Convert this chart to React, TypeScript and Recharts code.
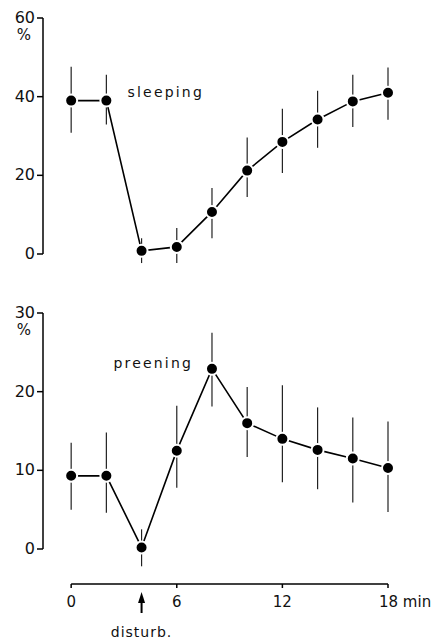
import { LineChart, Line, XAxis, YAxis, ErrorBar, ReferenceLine, ReferenceDot } from 'recharts'

const minutes = [0, 2, 4, 6, 8, 10, 12, 14, 16, 18]

const sleeping = [39, 39, 0.8, 1.8, 10.7, 21.2, 28.5, 34.2, 38.8, 41]
const sleepingLow = [30.8, 32.9, -2.3, -2.3, 4, 14.5, 20.6, 27, 32.3, 34.1]
const sleepingHigh = [47.6, 45.6, 4, 6.6, 16.8, 29.6, 36.9, 41.5, 45.6, 47.4]

const preening = [9.3, 9.3, 0.2, 12.5, 22.9, 16, 14, 12.6, 11.5, 10.3]
const preeningLow = [5.0, 4.6, -2.2, 7.8, 18.1, 11.7, 8.5, 7.6, 5.9, 4.7]
const preeningHigh = [13.5, 14.8, 2.5, 18.2, 27.5, 20.6, 20.8, 18, 16.7, 16.2]

const sleepTicks = [0, 20, 40, 60]
const preenTicks = [0, 10, 20, 30]
const minuteTicks = [0, 4, 6, 12, 18]

const FONT = '"DejaVu Sans", sans-serif'
const X_DOMAIN: [number, number] = [-1.6, 18]
const SLEEP_BOTTOM = -4
const AXIS_BOTTOM = -4.45

const build = (vals: number[], lo: number[], hi: number[]) =>
  minutes.map((m, i) => ({ min: m, v: vals[i], err: [vals[i] - lo[i], hi[i] - vals[i]] }))

const sleepData = build(sleeping, sleepingLow, sleepingHigh)
const preenData = build(preening, preeningLow, preeningHigh)

const dotStyle = { r: 6, fill: '#000', stroke: '#fff', strokeWidth: 2 }

function YTick(props: any) {
  const { x, y, payload, top } = props
  return (
    <g>
      <text x={x} y={y} dy={5} textAnchor="end" fontSize={16} fontFamily={FONT} fill="#111">
        {payload.value}
      </text>
      {payload.value === top && (
        <text x={x - 4} y={y + 22} textAnchor="end" fontSize={15} fontFamily={FONT} fill="#111">%</text>
      )}
    </g>
  )
}

function XTick(props: any) {
  const { x, y, payload } = props
  if (payload.value === 4) {
    return (
      <g>
        <line x1={x} y1={y + 16} x2={x} y2={y + 29} stroke="#000" strokeWidth={2} />
        <polygon points={`${x},${y + 8} ${x - 3.5},${y + 19} ${x + 3.5},${y + 19}`} fill="#000" />
        <text x={x} y={y + 53} textAnchor="middle" fontSize={14} fontFamily={FONT} letterSpacing={1} fill="#111">
          disturb.
        </text>
      </g>
    )
  }
  return (
    <g>
      <line x1={x} y1={y} x2={x} y2={y + 4} stroke="#000" strokeWidth={1.5} />
      <text x={payload.value === 18 ? x - 9 : x} y={y + 23} textAnchor={payload.value === 18 ? 'start' : 'middle'}
        fontSize={15} fontFamily={FONT} fill="#111">
        {payload.value === 18 ? '18 min' : payload.value}
      </text>
    </g>
  )
}

const label = (text: string) => (p: any) => (
  <text x={p.cx} y={p.cy} fontSize={14} fontFamily={FONT} letterSpacing={2.2} fill="#111">{text}</text>
)

export default function App() {
  return (
    <div style={{ position: 'absolute', left: 0, top: 0, width: 434, height: 642, background: '#fff' }}>
      <div style={{ position: 'absolute', left: 0, top: 0 }}>
        <LineChart width={434} height={300} data={sleepData} margin={{ top: 18, right: 46, bottom: 30.27, left: 0 }}>
          <XAxis dataKey="min" type="number" domain={X_DOMAIN} hide />
          <YAxis
            domain={[SLEEP_BOTTOM, 60]}
            ticks={sleepTicks}
            width={43}
            tickSize={6}
            axisLine={false}
            tickLine={{ stroke: '#000', strokeWidth: 1.5 }}
            tick={<YTick top={60} />}
          />
          <ReferenceLine
            segment={[{ x: X_DOMAIN[0], y: 0 }, { x: X_DOMAIN[0], y: 60 }]}
            stroke="#000"
            strokeWidth={1.5}
            ifOverflow="visible"
          />
          <ReferenceDot x={3.2} y={40} ifOverflow="visible" shape={label('sleeping')} />
          <Line dataKey="v" stroke="#000" strokeWidth={1.6} dot={dotStyle} isAnimationActive={false}>
            <ErrorBar dataKey="err" width={0} stroke="#222" strokeWidth={1.2} direction="y" />
          </Line>
        </LineChart>
      </div>
      <div style={{ position: 'absolute', left: 0, top: 300 }}>
        <LineChart width={434} height={342} data={preenData} margin={{ top: 13, right: 46, bottom: 0, left: 0 }}>
          <XAxis
            dataKey="min"
            type="number"
            domain={X_DOMAIN}
            ticks={minuteTicks}
            height={58}
            axisLine={false}
            tickLine={false}
            tickSize={0}
            tickMargin={0}
            tick={<XTick />}
          />
          <YAxis
            domain={[AXIS_BOTTOM, 30]}
            ticks={preenTicks}
            width={43}
            tickSize={6}
            axisLine={false}
            tickLine={{ stroke: '#000', strokeWidth: 1.5 }}
            tick={<YTick top={30} />}
          />
          <ReferenceLine
            segment={[{ x: X_DOMAIN[0], y: 0 }, { x: X_DOMAIN[0], y: 30 }]}
            stroke="#000"
            strokeWidth={1.5}
            ifOverflow="visible"
          />
          <ReferenceLine
            segment={[{ x: 0, y: AXIS_BOTTOM }, { x: 18, y: AXIS_BOTTOM }]}
            stroke="#000"
            strokeWidth={1.5}
            ifOverflow="visible"
          />
          <ReferenceDot x={2.4} y={23} ifOverflow="visible" shape={label('preening')} />
          <Line dataKey="v" stroke="#000" strokeWidth={1.6} dot={dotStyle} isAnimationActive={false}>
            <ErrorBar dataKey="err" width={0} stroke="#222" strokeWidth={1.2} direction="y" />
          </Line>
        </LineChart>
      </div>
    </div>
  )
}
